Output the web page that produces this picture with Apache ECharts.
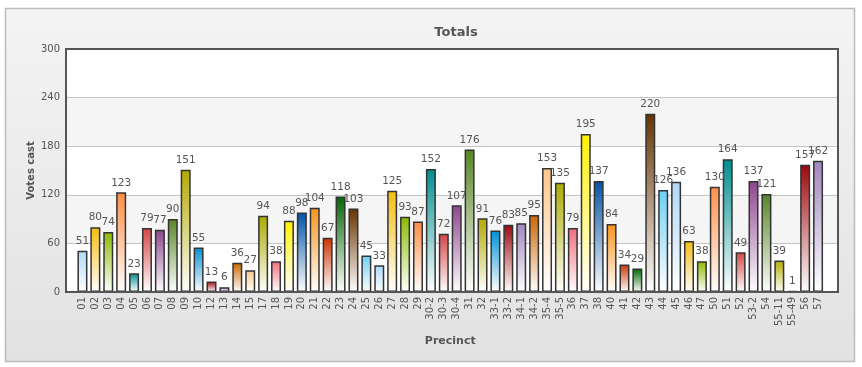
<!DOCTYPE html>
<html>
<head>
<meta charset="utf-8">
<script src="https://cdn.jsdelivr.net/npm/echarts@6/dist/echarts.min.js"></script>
<style>
html,body{margin:0;padding:0;background:#fff;}
#chart{width:862px;height:367px;}
</style>
</head>
<body>
<div id="chart"></div>
<script>
var categories = ["01","02","03","04","05","06","07","08","09","10","12","13","14","15","17","18","19","20","21","22","23","24","25","26","27","28","29","30-2","30-3","30-4","31","32","33-1","33-2","34-1","34-2","35-4","35-5","36","37","38","40","41","42","43","44","45","46","47","50","51","52","53-2","54","55-11","55-49","56","57"];
var votes = [51,80,74,123,23,79,77,90,151,55,13,6,36,27,94,38,88,98,104,67,118,103,45,33,125,93,87,152,72,107,176,91,76,83,85,95,153,135,79,195,137,84,34,29,220,126,136,63,38,130,164,49,137,121,39,1,157,162];
var yTicks = [0,60,120,180,240,300];

var palette = ["#AFD8F8","#F6BD0F","#8BBA00","#FF8E46","#008E8E","#D64646","#8E468E","#588526","#B3AA00","#008ED6","#9D080D","#A186BE","#CC6600","#FDC689","#ABAB00","#F26D7D","#FFF200","#0054A6","#F7941C","#CC3300","#006600","#663300","#6DCFF6"];

var chart = echarts.init(document.getElementById('chart'), null, {renderer:'canvas'});
var font = 'DejaVu Sans, Verdana, sans-serif';
var dataItems = votes.map(function(v,i){
  var c = palette[i % palette.length];
  return {
    value: v,
    itemStyle: {
      color: new echarts.graphic.LinearGradient(0,0,0,1,[{offset:0,color:c},{offset:1,color:'#ffffff'}]),
      borderColor: '#333333',
      borderWidth: 1.5
    }
  };
});

chart.setOption({
  animation: false,
  graphic: [{
    type: 'rect', z: -10, silent: true,
    shape: {x: 5.5, y: 8.5, width: 849, height: 353},
    style: {
      fill: new echarts.graphic.LinearGradient(0,0,0,1,[{offset:0,color:'#f4f4f4'},{offset:1,color:'#e2e2e2'}]),
      stroke: '#bbbbbb', lineWidth: 1.5
    }
  }],
  title: {
    text: 'Totals', left: 451, top: 21, textAlign: 'center',
    textStyle: {fontFamily: font, fontSize: 13, fontWeight: 'bold', color: '#555555'}
  },
  grid: [
    {left: 66, right: 24, top: 49, bottom: 75, show: true, borderColor: '#555555', borderWidth: 2, backgroundColor: 'transparent', z: 3},
    {left: 76, right: 37.5, top: 49, bottom: 75, show: false}
  ],
  xAxis: [
    {gridIndex: 0, type: 'value', min: 0, max: 1, show: false},
    {
      gridIndex: 1, type: 'category', data: categories,
      name: 'Precinct', nameLocation: 'middle', nameGap: 44,
      nameTextStyle: {fontFamily: font, fontSize: 11, fontWeight: 'bold', color: '#555555'},
      axisLine: {show: false},
      axisTick: {show: false},
      axisLabel: {interval: 0, rotate: 90, margin: 5, fontFamily: font, fontSize: 10, color: '#555555'}
    }
  ],
  yAxis: [
    {
      gridIndex: 0, type: 'value', min: 0, max: 300, interval: 60,
      name: 'Votes cast', nameLocation: 'middle', nameGap: 30, nameMoveOverlap: false,
      nameTextStyle: {fontFamily: font, fontSize: 10, fontWeight: 'bold', color: '#555555'},
      axisLine: {show: true, lineStyle: {color: '#555555', width: 2}},
      axisTick: {show: false},
      axisLabel: {margin: 6, fontFamily: font, fontSize: 10, color: '#555555',
        formatter: function(v){ return yTicks.indexOf(v) >= 0 ? String(v) : ''; }},
      splitLine: {show: true, lineStyle: {color: '#c4c4c4', width: 1}},
      splitArea: {show: true, areaStyle: {color: ['#ffffff','#f5f5f5']}}
    },
    {gridIndex: 1, type: 'value', min: 0, max: 300, show: false, splitLine: {show: false}}
  ],
  series: [{
    type: 'bar', xAxisIndex: 1, yAxisIndex: 1, data: dataItems, barWidth: 10,
    label: {show: true, position: 'top', distance: 4, fontFamily: font, fontSize: 10.5, color: '#555555'}
  }]
});
</script>
</body>
</html>
